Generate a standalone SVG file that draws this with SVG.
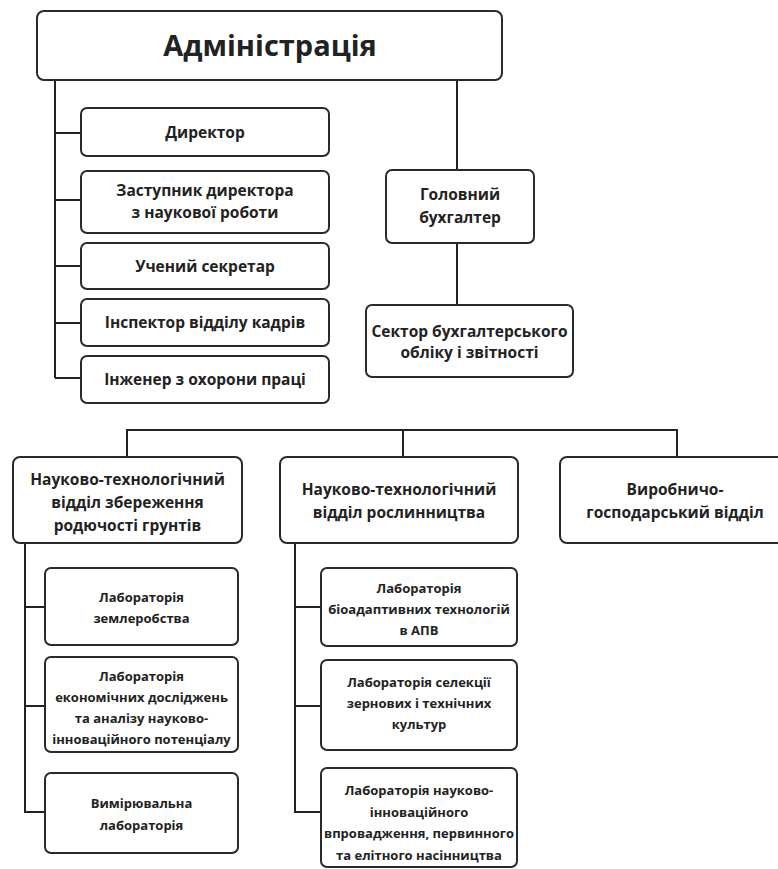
<svg xmlns="http://www.w3.org/2000/svg" width="778" height="869" viewBox="0 0 778 869">
<style>
.box{fill:#fff;stroke:#2a2a2a;stroke-width:2}
.ln{fill:none;stroke:#222;stroke-width:2}
text{font-family:"Open Sans","Noto Sans","DejaVu Sans",sans-serif;font-weight:bold;fill:#222;text-anchor:middle}
.t1{font-size:29px}
.t2{font-size:15.5px}
.t3{font-size:13px}
</style>
<rect width="778" height="869" fill="#fff"/>
<g id="connectors">
<path class="ln" d="M55,80V378M55,133H81M55,200H81M55,266H81M55,323H81M55,378H81"/>
<path class="ln" d="M457,80V170M457,243V305"/>
<path class="ln" d="M127,457V430H677V457M403,430V457"/>
<path class="ln" d="M25,543V812H45M25,607H45M25,706H45"/>
<path class="ln" d="M295,543V812H321M295,607H321M295,706H321"/>
</g>
<g id="admin"><rect class="box" x="37" y="11" width="465" height="69" rx="7"/><text class="t1" x="270" y="56">Адміністрація</text></g>
<g id="director"><rect class="box" x="81" y="108" width="248" height="48" rx="6"/><text class="t2" x="205" y="138">Директор</text></g>
<g id="deputy"><rect class="box" x="81" y="171" width="248" height="62" rx="6"/><text class="t2" x="205" y="196">Заступник директора</text><text class="t2" x="205" y="218">з наукової роботи</text></g>
<g id="secretary"><rect class="box" x="81" y="243" width="248" height="46" rx="6"/><text class="t2" x="205" y="272">Учений секретар</text></g>
<g id="inspector"><rect class="box" x="81" y="299" width="248" height="47" rx="6"/><text class="t2" x="205" y="328">Інспектор відділу кадрів</text></g>
<g id="engineer"><rect class="box" x="81" y="356" width="248" height="47" rx="6"/><text class="t2" x="205" y="385">Інженер з охорони праці</text></g>
<g id="accountant"><rect class="box" x="386" y="170" width="148" height="73" rx="6"/><text class="t2" x="460" y="200">Головний</text><text class="t2" x="460" y="223">бухгалтер</text></g>
<g id="sector"><rect class="box" x="366" y="305" width="207" height="72" rx="6"/><text class="t2" x="469.5" y="337">Сектор бухгалтерського</text><text class="t2" x="469.5" y="358">обліку і звітності</text></g>
<g id="div1"><rect class="box" x="13" y="457" width="229" height="86" rx="7"/><text class="t2" x="127.5" y="485">Науково-технологічний</text><text class="t2" x="127.5" y="508">відділ збереження</text><text class="t2" x="127.5" y="531">родючості грунтів</text></g>
<g id="div2"><rect class="box" x="280" y="457" width="238" height="86" rx="7"/><text class="t2" x="399" y="495">Науково-технологічний</text><text class="t2" x="399" y="518">відділ рослинництва</text></g>
<g id="div3"><rect class="box" x="560" y="457" width="230" height="86" rx="7"/><text class="t2" x="675" y="495">Виробничо-</text><text class="t2" x="675" y="518">господарський відділ</text></g>
<g id="lab1a"><rect class="box" x="45" y="568" width="193" height="77" rx="6"/><text class="t3" x="141.5" y="602">Лабораторія</text><text class="t3" x="141.5" y="623">землеробства</text></g>
<g id="lab1b"><rect class="box" x="45" y="657" width="193" height="95" rx="6"/><text class="t3" x="141.5" y="681">Лабораторія</text><text class="t3" x="141.5" y="702">економічних досліджень</text><text class="t3" x="141.5" y="723">та аналізу науково-</text><text class="t3" x="141.5" y="744">інноваційного потенціалу</text></g>
<g id="lab1c"><rect class="box" x="45" y="773" width="193" height="80" rx="6"/><text class="t3" x="141.5" y="808">Вимірювальна</text><text class="t3" x="141.5" y="830">лабораторія</text></g>
<g id="lab2a"><rect class="box" x="321" y="568" width="196" height="78" rx="6"/><text class="t3" x="419" y="593">Лабораторія</text><text class="t3" x="419" y="614">біоадаптивних технологій</text><text class="t3" x="419" y="635">в АПВ</text></g>
<g id="lab2b"><rect class="box" x="321" y="660" width="196" height="90" rx="6"/><text class="t3" x="419" y="687">Лабораторія селекції</text><text class="t3" x="419" y="708">зернових і технічних</text><text class="t3" x="419" y="729">культур</text></g>
<g id="lab2c"><rect class="box" x="321" y="768" width="196" height="99" rx="6"/><text class="t3" x="419" y="795">Лабораторія науково-</text><text class="t3" x="419" y="817">інноваційного</text><text class="t3" x="419" y="838">впровадження, первинного</text><text class="t3" x="419" y="860">та елітного насінництва</text></g>
</svg>
